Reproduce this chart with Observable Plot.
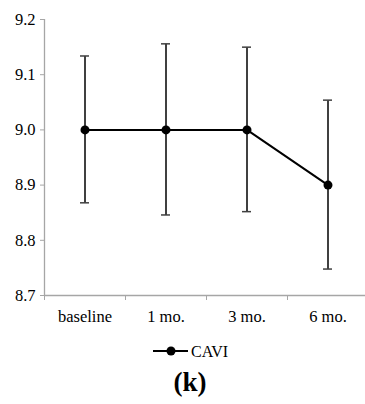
<!DOCTYPE html>
<html><head><meta charset="utf-8">
<script src="https://cdn.jsdelivr.net/npm/d3@7"></script>
<script src="https://cdn.jsdelivr.net/npm/@observablehq/plot@0.6"></script>
<style>
body{margin:0;background:#fff;font-family:"Liberation Serif","Times New Roman",serif;}
#legend{position:absolute;left:0;top:338px;width:365px;height:26px;}
#title{position:absolute;left:0;top:366px;width:365px;text-align:center;font-weight:bold;font-size:27px;line-height:32px;padding-left:15px;box-sizing:border-box;}
</style></head>
<body>
<div id="chart"></div>
<div id="legend"></div>
<div id="title">(k)</div>
<script>
const categories = ["baseline", "1 mo.", "3 mo.", "6 mo."];
const cavi = [9.0, 9.0, 9.0, 8.9];
const errLow = [8.867, 8.845, 8.851, 8.747];
const errHigh = [9.133, 9.155, 9.149, 9.053];
const yTicks = [8.7, 8.8, 8.9, 9.0, 9.1, 9.2];
const seriesName = "CAVI";

const data = categories.map((c, i) => ({i, c, v: cavi[i], lo: errLow[i], hi: errHigh[i]}));
const boundaries = categories.map((c, i) => i - 0.5).concat([categories.length - 0.5]);

const axisColor = "#a6a6a6";
const serif = '"Liberation Serif","Times New Roman",serif';
const plot = Plot.plot({
  width: 365, height: 330,
  marginTop: 19, marginBottom: 35, marginLeft: 44, marginRight: 0,
  style: {fontFamily: serif, fontSize: "16.5px", color: "#000", background: "#fff"},
  x: {type: "linear", domain: [-0.5, categories.length - 0.5], range: [44, 368]},
  y: {domain: [8.7, 9.2]},
  marks: [
    Plot.ruleY([8.7], {stroke: axisColor, strokeWidth: 1.3}),
    Plot.ruleX([-0.5], {stroke: axisColor, strokeWidth: 1.3}),
    Plot.axisY({ticks: yTicks, tickFormat: d3.format(".1f"), tickSize: 4, tickPadding: 5, stroke: axisColor, fill: "#000", fontSize: 16.5, label: null}),
    Plot.axisX({ticks: boundaries, tickFormat: () => "", tickSize: 5, stroke: axisColor, label: null}),
    Plot.axisX({ticks: categories.map((c, i) => i), tickFormat: i => categories[i], tickSize: 0, tickPadding: 15, fill: "#000", fontSize: 16.5, label: null}),
    Plot.ruleX(data, {x: "i", y1: "lo", y2: "hi", stroke: "#404040", strokeWidth: 2}),
    Plot.line(data, {x: "i", y: "v", stroke: "#000", strokeWidth: 2}),
    Plot.dot(data, {x: "i", y: "v", r: 4.5, fill: "#000", stroke: "none"})
  ]
});
document.getElementById("chart").appendChild(plot);

// caps drawn from the plot's own scales
const xs = plot.scale("x"), ys = plot.scale("y");
const svg = d3.select(plot);
const capG = svg.append("g").attr("stroke", "#404040").attr("stroke-width", 1.5);
data.forEach(d => {
  [d.lo, d.hi].forEach(v => {
    const px = xs.apply(d.i), py = ys.apply(v);
    capG.append("line").attr("x1", px - 4.5).attr("x2", px + 4.5).attr("y1", py).attr("y2", py);
  });
});

// legend
const lg = d3.select("#legend").append("svg").attr("width", 365).attr("height", 26);
lg.append("line").attr("x1", 153).attr("x2", 188).attr("y1", 13).attr("y2", 13).attr("stroke", "#000").attr("stroke-width", 2);
lg.append("circle").attr("cx", 171).attr("cy", 13).attr("r", 4.5).attr("fill", "#000");
lg.append("text").attr("x", 191).attr("y", 19).attr("font-size", 16).attr("font-family", serif).text(seriesName);
</script>
</body></html>
